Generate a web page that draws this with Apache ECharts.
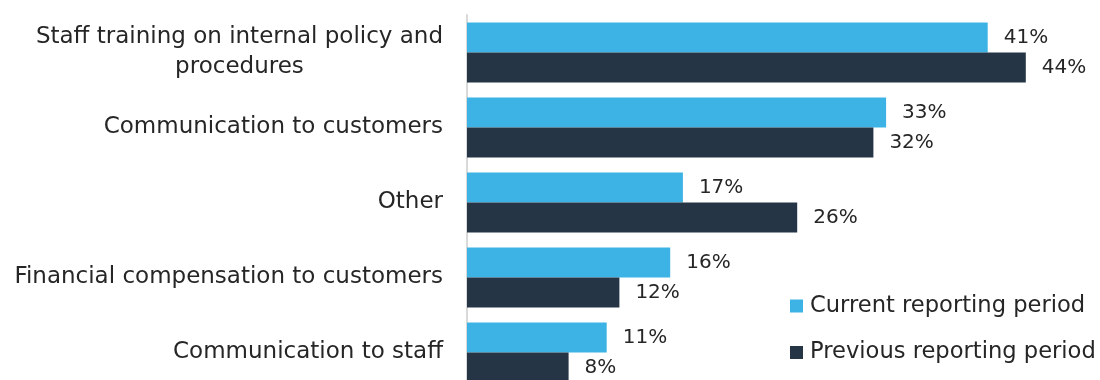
<!DOCTYPE html>
<html>
<head>
<meta charset="utf-8">
<script src="https://cdn.jsdelivr.net/npm/echarts@6/dist/echarts.min.js"></script>
<style>
  html, body { margin: 0; padding: 0; background: #fff; }
  #chart { width: 1100px; height: 380px; }
</style>
</head>
<body>
<div id="chart"></div>
<script>
// Measures taken to address complaints, by reporting period (% of firms)
const categories = [
  'Staff training on internal policy and\nprocedures',
  'Communication to customers',
  'Other',
  'Financial compensation to customers',
  'Communication to staff'
];
const seriesNames = ['Current reporting period', 'Previous reporting period'];
const currentValues = [41, 33, 17, 16, 11];
const previousValues = [44, 32, 26, 12, 8];

const FONT = '"DejaVu Sans", sans-serif';
const TEXT = '#262626';
const BLUE = '#3CB3E4';
const NAVY = '#253546';

const chart = echarts.init(document.getElementById('chart'), null, { renderer: 'canvas' });

const valueLabel = {
  show: true,
  position: 'right',
  distance: 16,
  formatter: '{c}%',
  color: TEXT,
  fontFamily: FONT,
  fontSize: 20
};

chart.setOption({
  animation: false,
  grid: {
    left: 467,
    right: 23.4,
    top: 15,
    height: 375,
    containLabel: false,
    outerBoundsMode: 'none'
  },
  xAxis: {
    type: 'value',
    min: 0,
    max: 48,
    show: false
  },
  yAxis: {
    type: 'category',
    inverse: true,
    data: categories,
    axisLine: { show: true, lineStyle: { color: '#D9D9D9', width: 2 } },
    axisTick: { show: false },
    axisLabel: {
      margin: 24,
      color: TEXT,
      fontFamily: FONT,
      fontSize: 23,
      formatter: v => v.split('\n').map(s => '{c|' + s + '}').join('\n'),
      rich: {
        c: { align: 'center', fontFamily: FONT, fontSize: 23, lineHeight: 30, color: TEXT }
      }
    }
  },
  legend: {
    orient: 'vertical',
    left: 790,
    top: 292,
    icon: 'rect',
    itemWidth: 13,
    itemHeight: 13,
    itemGap: 18.5,
    padding: 0,
    textStyle: {
      color: TEXT,
      fontFamily: FONT,
      fontSize: 22.6,
      lineHeight: 28,
      padding: [0, 0, 0, 2]
    },
    data: seriesNames
  },
  series: [
    {
      name: seriesNames[0],
      type: 'bar',
      data: currentValues,
      barGap: '0%',
      barCategoryGap: '20%',
      itemStyle: { color: BLUE },
      label: valueLabel
    },
    {
      name: seriesNames[1],
      type: 'bar',
      data: previousValues,
      barGap: '0%',
      barCategoryGap: '20%',
      itemStyle: { color: NAVY },
      label: valueLabel
    }
  ]
});
</script>
</body>
</html>
